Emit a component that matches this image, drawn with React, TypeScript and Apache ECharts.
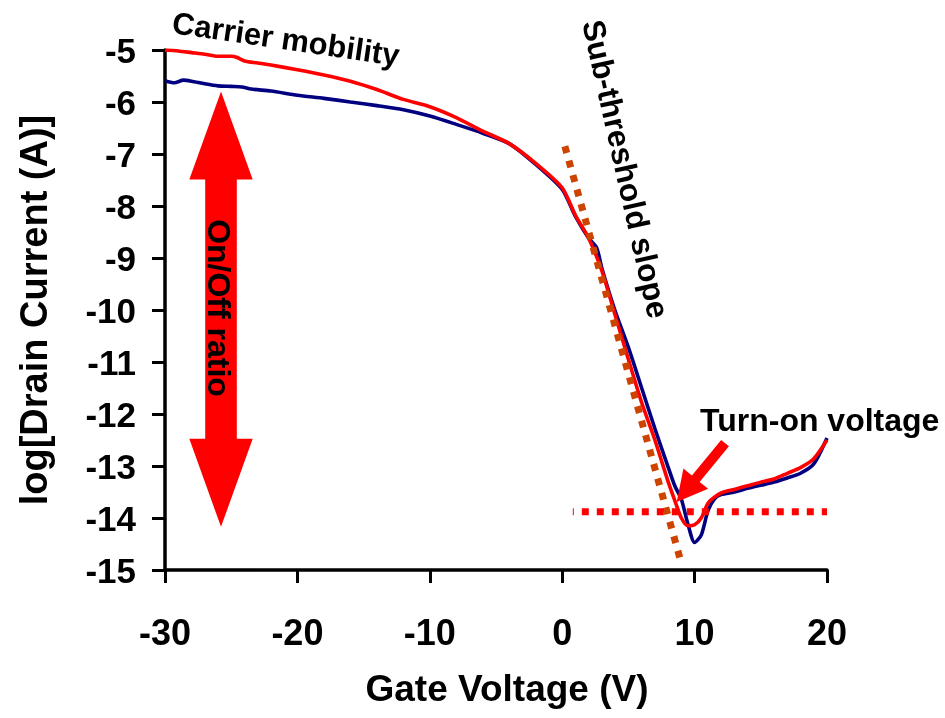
import React, { useEffect, useRef } from 'react';
import * as echarts from 'echarts';

// Transfer curves: gate voltage (V) vs log10 of drain current (A)
const blueVoltage = [-30, -29.3, -28.6, -28, -27, -26, -25, -24.2, -23.5, -22, -20, -18, -16, -14, -12, -10, -8, -6, -4, -2, 0, 1, 2, 2.6, 3, 4, 5, 6, 7, 8, 8.5, 9, 9.5, 10, 10.5, 11, 11.5, 12, 13, 14, 15, 16, 17, 18, 19, 20];
const blueLogId = [-5.59, -5.63, -5.58, -5.6, -5.65, -5.69, -5.7, -5.71, -5.75, -5.79, -5.87, -5.93, -6.0, -6.07, -6.15, -6.27, -6.43, -6.6, -6.8, -7.2, -7.68, -8.2, -8.62, -8.8, -9.2, -10.02, -10.72, -11.5, -12.28, -13.02, -13.38, -13.64, -14.12, -14.47, -14.33, -13.87, -13.63, -13.55, -13.5, -13.43, -13.37, -13.31, -13.23, -13.14, -12.96, -12.46];

const redVoltage = [-30, -29, -28, -27, -26, -25, -24.6, -24, -23, -22, -20, -18, -16, -14, -12, -10, -8, -6, -4, -2, 0, 1, 2, 3, 4, 5, 6, 7, 8, 8.5, 9, 9.5, 10, 10.5, 11, 11.5, 12, 13, 14, 15, 16, 17, 18, 19, 20];
const redLogId = [-5.0, -5.02, -5.05, -5.08, -5.12, -5.12, -5.14, -5.21, -5.25, -5.29, -5.38, -5.48, -5.6, -5.76, -5.95, -6.09, -6.3, -6.56, -6.8, -7.18, -7.65, -8.18, -8.62, -9.25, -10.1, -10.95, -11.78, -12.5, -13.3, -13.66, -14.0, -14.15, -14.13, -14.0, -13.72, -13.6, -13.52, -13.45, -13.38, -13.31, -13.25, -13.14, -13.03, -12.86, -12.5];

// Guide lines
const slopeVoltage = [0.2, 9.0];
const slopeLogId = [-6.85, -14.87];
const floorVoltage = [0.8, 20];
const floorLogId = [-13.88, -13.88];

// Arrow anchors (data coordinates)
const onOffVoltage = -25.77;
const onOffTop = -5.8;
const onOffBottom = -14.17;
const turnOnTail = [12.3, -12.56];
const turnOnTip = [8.65, -13.69];

// Axis ticks
const xTicks = { min: -30, max: 20, interval: 10 };
const yTicks = { min: -15, max: -5, interval: 1 };

const FONT = '"Liberation Sans", Arial, Helvetica, sans-serif';

const zip = (xs: number[], ys: number[]) => xs.map((x, i) => [x, ys[i]]);

export default function App() {
  const ref = useRef<HTMLDivElement>(null);

  useEffect(() => {
    const chart = echarts.init(ref.current!, null, { renderer: 'svg' });
    chart.setOption({
      animation: false,
      grid: { left: 165, top: 50, width: 662, height: 520 },
      xAxis: {
        type: 'value',
        min: xTicks.min,
        max: xTicks.max,
        interval: xTicks.interval,
        axisLine: { onZero: false, lineStyle: { color: '#000', width: 3.5 } },
        axisTick: { length: 13, lineStyle: { color: '#000', width: 3 } },
        axisLabel: { color: '#000', fontFamily: FONT, fontWeight: 'bold', fontSize: 36, margin: 44 },
        splitLine: { show: false },
        name: 'Gate Voltage (V)',
        nameLocation: 'middle',
        nameGap: 100,
        nameTextStyle: { color: '#000', fontFamily: FONT, fontWeight: 'bold', fontSize: 37, padding: [0, 0, 0, 22] },
      },
      yAxis: {
        type: 'value',
        min: yTicks.min,
        max: yTicks.max,
        interval: yTicks.interval,
        axisLine: { onZero: false, lineStyle: { color: '#000', width: 3.5 } },
        axisTick: { length: 13, lineStyle: { color: '#000', width: 3 } },
        axisLabel: { color: '#000', fontFamily: FONT, fontWeight: 'bold', fontSize: 35, margin: 29 },
        splitLine: { show: false },
        name: 'log[Drain Current (A)]',
        nameLocation: 'middle',
        nameGap: 112,
        nameRotate: 90,
        nameTextStyle: { color: '#000', fontFamily: FONT, fontWeight: 'bold', fontSize: 38 },
      },
      series: [
        {
          name: 'Scan 1',
          type: 'line',
          data: zip(blueVoltage, blueLogId),
          showSymbol: false,
          smooth: 0.25,
          lineStyle: { color: '#000080', width: 3.6 },
          silent: true,
          z: 2,
        },
        {
          name: 'Scan 2',
          type: 'line',
          data: zip(redVoltage, redLogId),
          showSymbol: false,
          smooth: 0.25,
          lineStyle: { color: '#FF0000', width: 3.6 },
          silent: true,
          z: 3,
        },
        {
          name: 'Sub-threshold slope',
          type: 'line',
          data: zip(slopeVoltage, slopeLogId),
          showSymbol: false,
          lineStyle: { color: '#CC4400', width: 7, type: [7, 8], cap: 'butt' },
          silent: true,
          z: 4,
        },
        {
          name: 'Turn-on level',
          type: 'line',
          data: zip(floorVoltage, floorLogId),
          showSymbol: false,
          lineStyle: { color: '#FF0000', width: 7, type: [7, 8], cap: 'butt', dashOffset: 6 },
          silent: true,
          z: 4,
        },
      ],
    });

    const px = (v: number, i: number) => chart.convertToPixel({ gridIndex: 0 }, [v, i]) as number[];

    // Double-headed On/Off arrow
    const [cx, yTop] = px(onOffVoltage, onOffTop);
    const [, yBot] = px(onOffVoltage, onOffBottom);
    const headLen = 88;
    const headHalf = 31.7;
    const shaftHalf = 15.8;
    const onOffPoints = [
      [cx, yTop],
      [cx + headHalf, yTop + headLen],
      [cx + shaftHalf, yTop + headLen],
      [cx + shaftHalf, yBot - headLen],
      [cx + headHalf, yBot - headLen],
      [cx, yBot],
      [cx - headHalf, yBot - headLen],
      [cx - shaftHalf, yBot - headLen],
      [cx - shaftHalf, yTop + headLen],
      [cx - headHalf, yTop + headLen],
    ];

    // Turn-on pointer arrow
    const [tx, ty] = px(turnOnTail[0], turnOnTail[1]);
    const [hx, hy] = px(turnOnTip[0], turnOnTip[1]);
    const len = Math.hypot(hx - tx, hy - ty);
    const ux = (hx - tx) / len;
    const uy = (hy - ty) / len;
    const nx = -uy;
    const ny = ux;
    const tHead = 30;
    const tHeadHalf = 16;
    const tShaftHalf = 5;
    const bx = hx - ux * tHead;
    const by = hy - uy * tHead;
    const turnOnPoints = [
      [tx + nx * tShaftHalf, ty + ny * tShaftHalf],
      [bx + nx * tShaftHalf, by + ny * tShaftHalf],
      [bx + nx * tHeadHalf, by + ny * tHeadHalf],
      [hx, hy],
      [bx - nx * tHeadHalf, by - ny * tHeadHalf],
      [bx - nx * tShaftHalf, by - ny * tShaftHalf],
      [tx - nx * tShaftHalf, ty - ny * tShaftHalf],
    ];

    const label = (text: string, x: number, y: number, rotation: number, size: number, align = 'center') => ({
      type: 'text',
      x,
      y,
      rotation,
      z: 120,
      silent: true,
      style: {
        text,
        x: 0,
        y: 0,
        fill: '#000',
        font: `bold ${size}px ${FONT}`,
        align,
        verticalAlign: 'middle',
      },
    });

    chart.setOption({
      graphic: [
        { type: 'polygon', z: 100, silent: true, shape: { points: onOffPoints }, style: { fill: '#FF0000' } },
        { type: 'polygon', z: 100, silent: true, shape: { points: turnOnPoints }, style: { fill: '#FF0000' } },
        label('On/Off ratio', cx - 2.5, 308, -Math.PI / 2, 32),
        label('Carrier mobility', 286, 39, -0.145, 31),
        label('Sub-threshold slope', 626, 169, -1.35, 31.5),
        label('Turn-on voltage', 700, 420, 0, 32, 'left'),
      ],
    });

    return () => chart.dispose();
  }, []);

  return <div ref={ref} style={{ position: 'fixed', left: 0, top: 0, width: 945, height: 718 }} />;
}
